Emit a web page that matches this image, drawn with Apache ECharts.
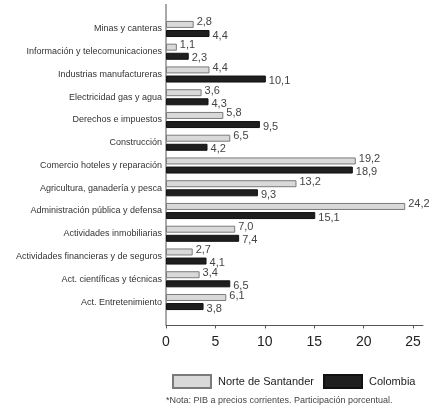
<!DOCTYPE html>
<html>
<head>
<meta charset="utf-8">
<script src="https://cdn.jsdelivr.net/npm/echarts@6/dist/echarts.min.js"></script>
<style>html,body{margin:0;padding:0;background:#fff;}#c{width:429px;height:412px;}</style>
</head>
<body>
<div id="c"></div>
<script>
const categories = [
  'Minas y canteras',
  'Información y telecomunicaciones',
  'Industrias manufactureras',
  'Electricidad gas y agua',
  'Derechos e impuestos',
  'Construcción',
  'Comercio hoteles y reparación',
  'Agricultura, ganadería y pesca',
  'Administración pública y defensa',
  'Actividades inmobiliarias',
  'Actividades financieras y de seguros',
  'Act. científicas y técnicas',
  'Act. Entretenimiento'
];
const norteDeSantander = [2.8, 1.1, 4.4, 3.6, 5.8, 6.5, 19.2, 13.2, 24.2, 7.0, 2.7, 3.4, 6.1];
const colombia = [4.4, 2.3, 10.1, 4.3, 9.5, 4.2, 18.9, 9.3, 15.1, 7.4, 4.1, 6.5, 3.8];
const xTicks = [0, 5, 10, 15, 20, 25];
const noteText = '*Nota: PIB a precios corrientes. Participación porcentual.';

const sans = '"Liberation Sans", Arial, sans-serif';
const fmt = p => String(p.value.toFixed(1)).replace('.', ',');
const legendBase = {
  top: 374, orient: 'horizontal', padding: 0, icon: 'rect', width: 200,
  itemWidth: 38, itemHeight: 13,
  textStyle: {fontFamily: sans, fontSize: 11, color: '#222', padding: [0, 0, 0, 2]}
};

const chart = echarts.init(document.getElementById('c'), null, {renderer: 'canvas'});
chart.setOption({
  animation: false,
  backgroundColor: '#fff',
  grid: {left: 166, width: 257, top: 17.6, bottom: 98.6, containLabel: false},
  legend: [
    Object.assign({}, legendBase, {left: 172, data: ['Norte de Santander']}),
    Object.assign({}, legendBase, {left: 323, data: ['Colombia']})
  ],
  xAxis: {
    type: 'value', min: 0, max: 26, interval: 5, offset: 12,
    axisLine: {show: true, lineStyle: {color: '#555', width: 1}},
    axisTick: {show: true, length: 3, lineStyle: {color: '#555'}},
    splitLine: {show: false},
    axisLabel: {
      showMaxLabel: false, margin: 10,
      fontFamily: sans, fontSize: 14, color: '#222',
      formatter: v => xTicks.indexOf(v) >= 0 ? String(v) : ''
    }
  },
  yAxis: {
    type: 'category', inverse: true, data: categories,
    axisLine: {show: false}, axisTick: {show: false},
    axisLabel: {margin: 4, fontFamily: sans, fontSize: 9, color: '#333'}
  },
  graphic: [{
    type: 'line', shape: {x1: 166, y1: 4, x2: 166, y2: 325},
    style: {stroke: '#555', lineWidth: 1}
  }, {
    type: 'text', left: 166, top: 396,
    style: {text: noteText, font: '9px ' + sans, fill: '#444'}
  }],
  series: [{
    name: 'Norte de Santander', type: 'bar', data: norteDeSantander,
    barWidth: 7, barGap: '30%',
    itemStyle: {color: '#d9d9d9', borderColor: '#7a7a7a', borderWidth: 1},
    label: {show: true, position: 'right', distance: 3, formatter: fmt, fontFamily: sans, fontSize: 11, color: '#444', offset: [0, -2]}
  }, {
    name: 'Colombia', type: 'bar', data: colombia,
    barWidth: 7,
    itemStyle: {color: '#1f1f1f', borderColor: '#111', borderWidth: 1},
    label: {show: true, position: 'right', distance: 3, formatter: fmt, fontFamily: sans, fontSize: 11, color: '#444', offset: [0, 2]}
  }]
});
</script>
</body>
</html>
